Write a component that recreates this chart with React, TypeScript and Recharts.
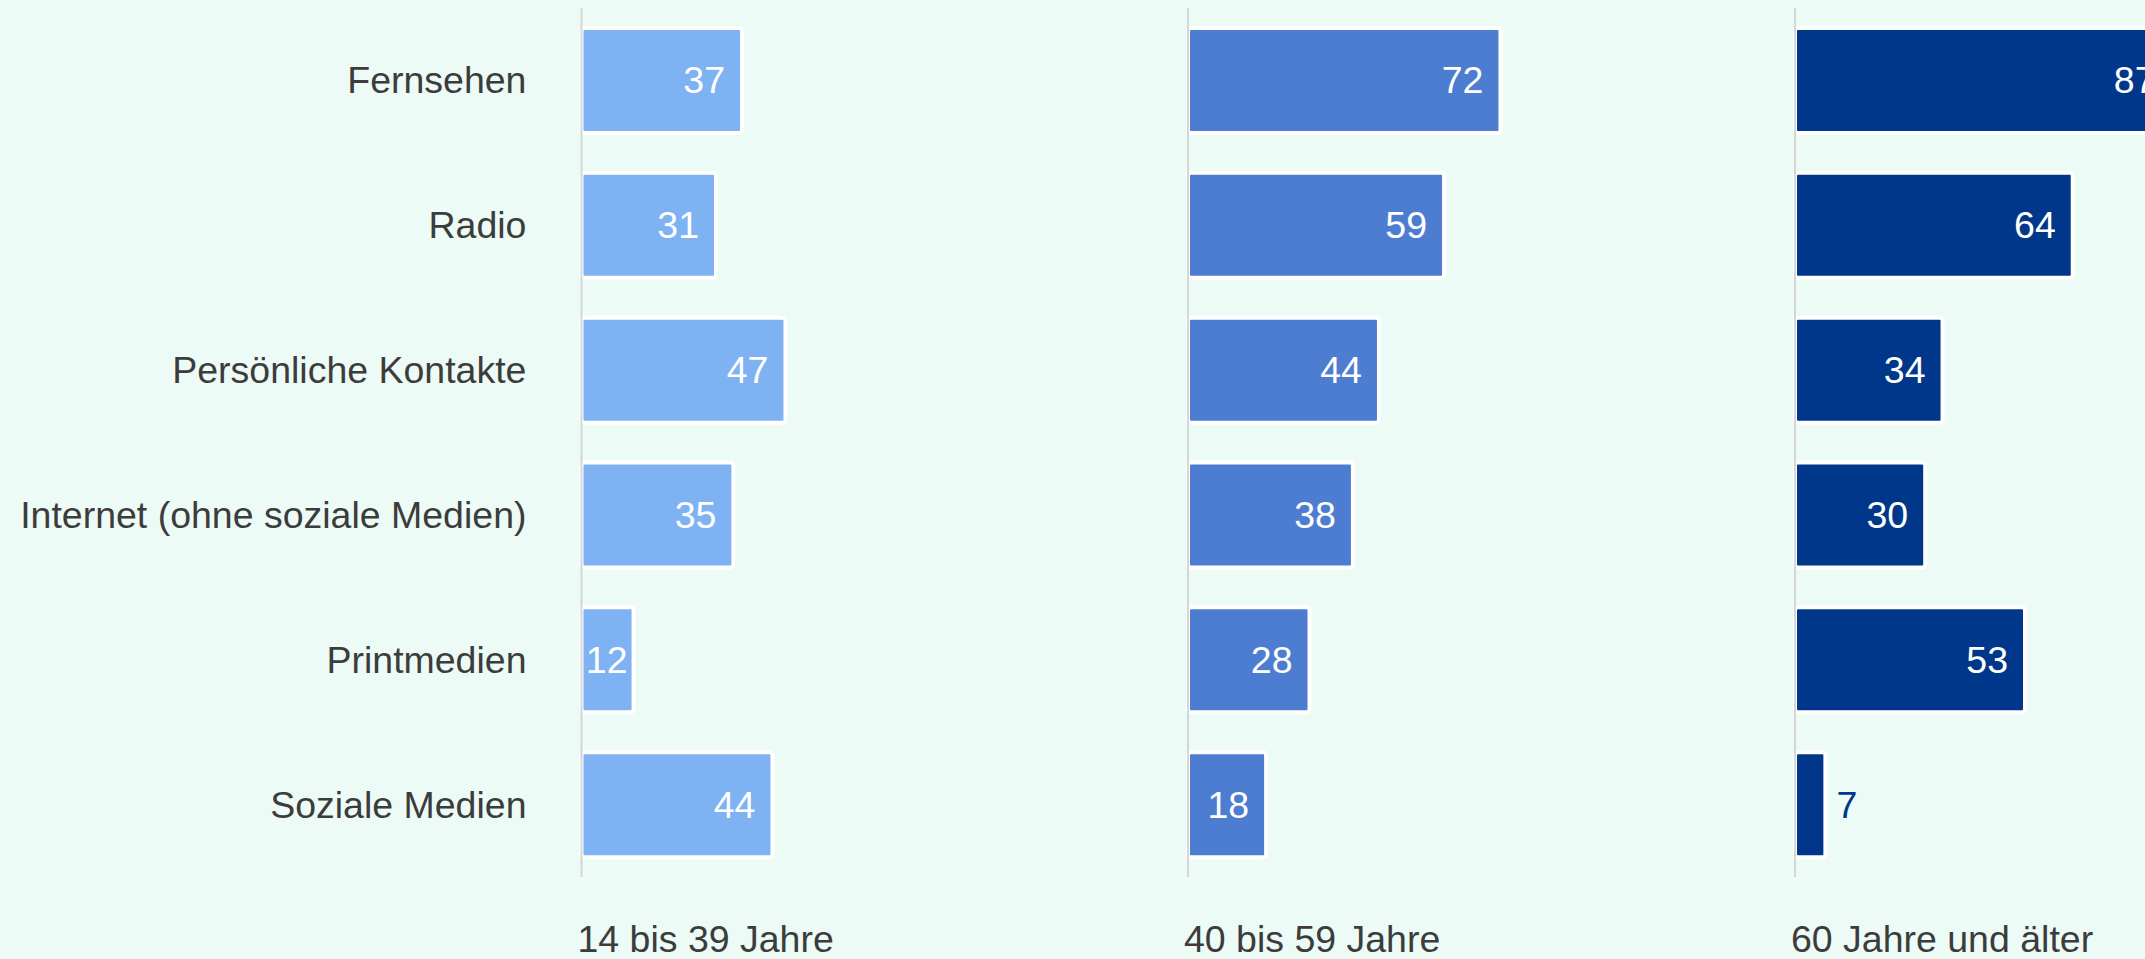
import React from 'react';
import { BarChart, Bar, XAxis, YAxis, LabelList } from 'recharts';

const categories = ['Fernsehen', 'Radio', 'Persönliche Kontakte', 'Internet (ohne soziale Medien)', 'Printmedien', 'Soziale Medien'];
const age14to39 = [37, 31, 47, 35, 12, 44];
const age40to59 = [72, 59, 44, 38, 28, 18];
const age60plus = [87, 64, 34, 30, 53, 7];
const groupLabels = ['14 bis 39 Jahre', '40 bis 59 Jahre', '60 Jahre und älter'];
const groupColors = ['#7fb2f2', '#4d7dd1', '#00378a'];

const W = 2145;
const H = 959;
const FONT = '"Liberation Sans", Arial, sans-serif';
const FS = 37.5;
const TEXT = '#3c3c3c';
const DOMAIN_MAX = 140;
const PLOT_W = 607.6;
const AXIS_X = [581.5, 1188, 1794.5];
const TOP = 8;
const XAXIS_H = 82;

const seriesList = [age14to39, age40to59, age60plus];

const CatTick = (props: any) => (
  <text x={props.x} y={props.y + 13} textAnchor="end" fontSize={FS} fill={TEXT} fontFamily={FONT}>
    {props.payload.value}
  </text>
);

const makeValueLabel = (color: string) => (props: any) => {
  const x = Number(props.x);
  const y = Number(props.y);
  const w = Number(props.width);
  const h = Number(props.height);
  const v = props.value;
  const tw = String(v).length * 0.556 * FS;
  const by = y + h / 2 + 13;
  if (w - 17 >= tw + 4) {
    return (
      <text x={x + w - 17} y={by} textAnchor="end" fontSize={FS} fill="#ffffff" fontFamily={FONT}>{v}</text>
    );
  }
  if (w >= tw + 10) {
    return (
      <text x={x + w - 6} y={by} textAnchor="end" fontSize={FS} fill="#ffffff" fontFamily={FONT}>{v}</text>
    );
  }
  return (
    <text x={x + w + 11} y={by} textAnchor="start" fontSize={FS} fill={color} fontFamily={FONT}>{v}</text>
  );
};

const Panel = ({ idx }: { idx: number }) => {
  const first = idx === 0;
  const yw = first ? AXIS_X[0] : 10;
  const data = categories.map((name, i) => ({ name, value: seriesList[idx][i] }));
  const color = groupColors[idx];
  return (
    <div style={{ position: 'absolute', left: AXIS_X[idx] - yw, top: 0 }}>
      <BarChart
        width={yw + PLOT_W}
        height={H}
        data={data}
        layout="vertical"
        margin={{ top: TOP, right: 0, bottom: 0, left: 0 }}
        barSize={105}
      >
        <XAxis
          type="number"
          domain={[0, DOMAIN_MAX]}
          tick={false}
          axisLine={false}
          tickLine={false}
          height={XAXIS_H}
          label={{
            content: (p: any) => (
              <text x={p.viewBox.x - 4} y={952} textAnchor="start" fontSize={FS} fill={TEXT} fontFamily={FONT}>
                {groupLabels[idx]}
              </text>
            ),
          }}
        />
        <YAxis
          type="category"
          dataKey="name"
          width={yw}
          axisLine={{ stroke: '#d6d6d6', strokeWidth: 2 }}
          tickLine={false}
          tickSize={0}
          tickMargin={55}
          tick={first ? <CatTick /> : false}
          interval={0}
        />
        <Bar dataKey="value" fill={color} stroke="#ffffff" strokeWidth={4} radius={3} isAnimationActive={false}>
          <LabelList dataKey="value" content={makeValueLabel(color)} />
        </Bar>
      </BarChart>
    </div>
  );
};

export default function App() {
  return (
    <div style={{ position: 'absolute', left: 0, top: 0, width: W, height: H, overflow: 'hidden', background: '#ecfbf6' }}>
      <Panel idx={0} />
      <Panel idx={1} />
      <Panel idx={2} />
    </div>
  );
}
